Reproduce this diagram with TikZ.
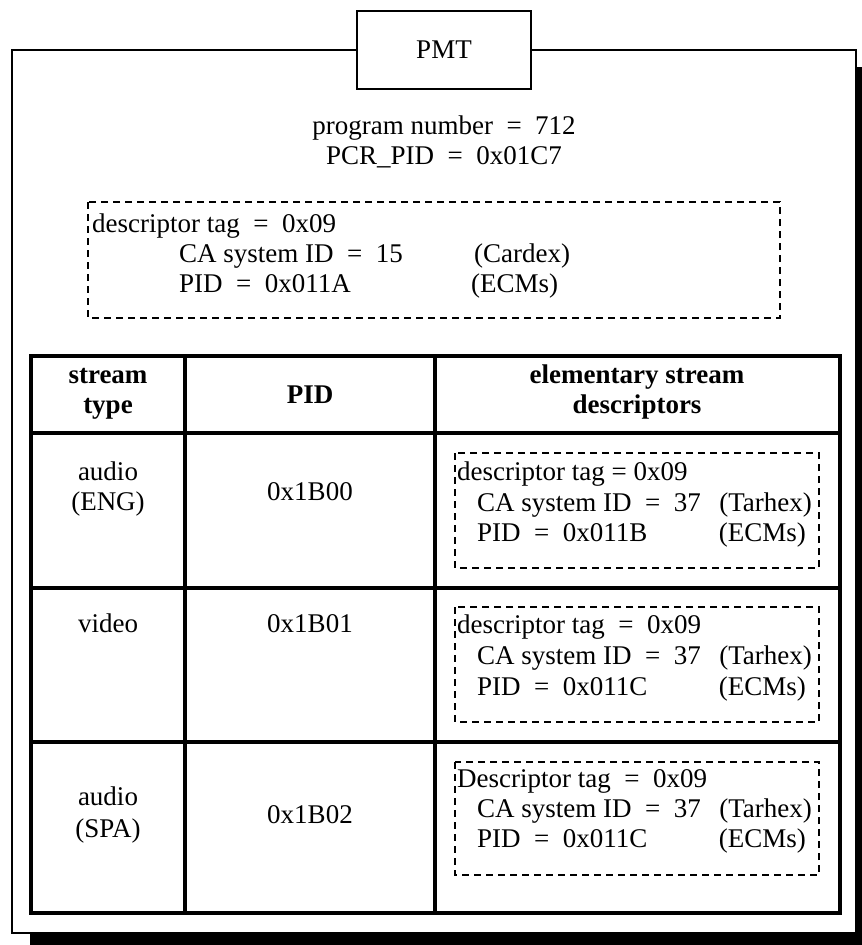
\documentclass[tikz,border=0pt]{standalone}
\usepackage{fontspec}
\setmainfont{Liberation Serif}

\begin{document}
\begin{tikzpicture}[x=1pt,y=-1pt,
    lbl/.style={inner sep=0pt,anchor=base west,font=\fontsize{27}{30}\selectfont},
    rlbl/.style={lbl,anchor=base east},
    clbl/.style={lbl,anchor=base},
    head/.style={clbl,font=\fontsize{27}{30}\selectfont\bfseries},
    dashbox/.style={line width=1.5pt,dash pattern=on 7pt off 5pt},
    grid/.style={line width=4pt}]
  \useasboundingbox (0,0) rectangle (862,945);
  % frame and its shadow
  \fill (856,67) rectangle (862,945);
  \fill (30,933) rectangle (862,945);
  \draw[line width=1.5pt,fill=white] (12,50) rectangle (856,933);
  \node[draw,fill=white,line width=1.5pt,minimum width=174,minimum height=78,
    font=\fontsize{27}{30}\selectfont] (pmt) at (444,50) {PMT};
  \node[clbl] (prognum) at (444,134) {program number~~=~~712};
  \node[clbl] (pcrpid) at (444,164) {PCR\_PID~~=~~0x01C7};
  % program descriptor
  \draw[dashbox] (88,202) rectangle (780,318);
  \node[lbl] (ptag) at (92,232) {descriptor tag~~=~~0x09};
  \node[lbl] (pcas) at (179,262) {CA system ID~~=~~15};
  \node[lbl] (pcardex) at (474,262) {(Cardex)};
  \node[lbl] (ppid) at (179,292) {PID~~=~~0x011A};
  \node[lbl] (pecm) at (471,292) {(ECMs)};
  % stream table
  \draw[grid] (31,356) rectangle (840,913);
  \draw[grid] (185,356) -- (185,913);
  \draw[grid] (435,356) -- (435,913);
  \draw[grid] (31,433) -- (840,433);
  \draw[grid] (31,588) -- (840,588);
  \draw[grid] (31,742) -- (840,742);
  \node[head] (hstream) at (108,383) {stream};
  \node[head] (htype) at (108,413) {type};
  \node[head] (hpid) at (310,403) {PID};
  \node[head] (helem) at (637,383) {elementary stream};
  \node[head] (hdesc) at (637,413) {descriptors};
  % audio ENG
  \node[clbl] (aeng) at (108,480) {audio};
  \node[clbl] (aengb) at (108,510) {(ENG)};
  \node[clbl] (pidaeng) at (310,500) {0x1B00};
  \draw[dashbox] (455,453) rectangle (819,568);
  \node[lbl] (tagaeng) at (457,480) {descriptor tag = 0x09};
  \node[lbl] (casaeng) at (477,511) {CA system ID~~=~~37};
  \node[rlbl] (tarhaeng) at (812,511) {(Tarhex)};
  \node[lbl] (ppidaeng) at (477,541) {PID~~=~~0x011B};
  \node[rlbl] (ecmaeng) at (806,541) {(ECMs)};
  % video
  \node[clbl] (vid) at (108,632) {video};
  \node[clbl] (pidvid) at (310,632) {0x1B01};
  \draw[dashbox] (455,607) rectangle (819,722);
  \node[lbl] (tagvid) at (457,633) {descriptor tag~~=~~0x09};
  \node[lbl] (casvid) at (477,664) {CA system ID~~=~~37};
  \node[rlbl] (tarhvid) at (812,664) {(Tarhex)};
  \node[lbl] (ppidvid) at (477,695) {PID~~=~~0x011C};
  \node[rlbl] (ecmvid) at (806,695) {(ECMs)};
  % audio SPA
  \node[clbl] (aspa) at (108,805) {audio};
  \node[clbl] (aspab) at (108,837) {(SPA)};
  \node[clbl] (pidaspa) at (310,823) {0x1B02};
  \draw[dashbox] (455,762) rectangle (819,875);
  \node[lbl] (tagaspa) at (457,787) {Descriptor tag~~=~~0x09};
  \node[lbl] (casaspa) at (477,817) {CA system ID~~=~~37};
  \node[rlbl] (tarhaspa) at (812,817) {(Tarhex)};
  \node[lbl] (ppidaspa) at (477,847) {PID~~=~~0x011C};
  \node[rlbl] (ecmaspa) at (806,847) {(ECMs)};
\end{tikzpicture}
\end{document}
